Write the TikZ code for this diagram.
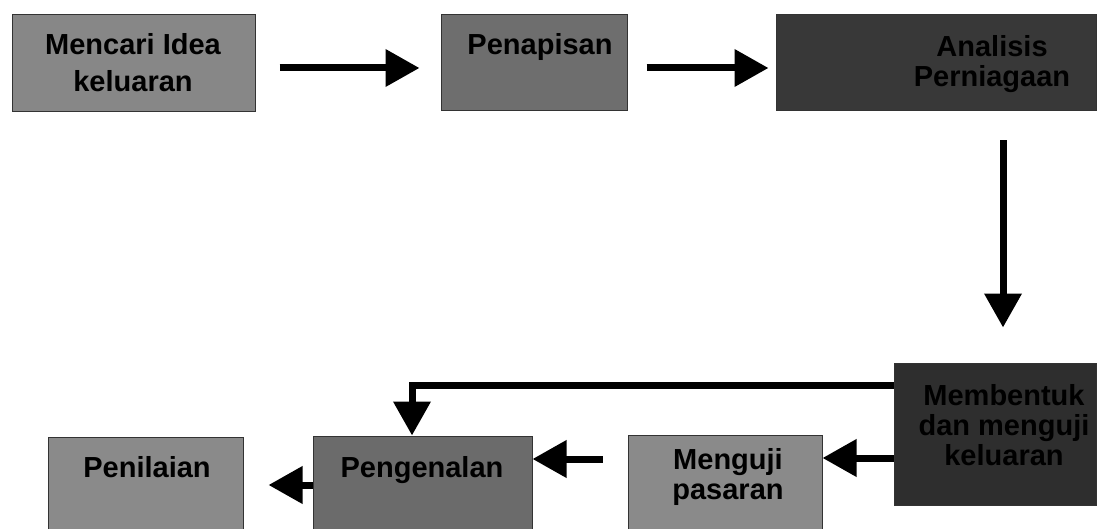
\documentclass[tikz,border=0pt]{standalone}
\usepackage{fontspec}
\setmainfont{Liberation Sans}
\usetikzlibrary{arrows.meta}
\begin{document}
\begin{tikzpicture}[x=1pt,y=-1pt,
  box/.style={draw=black!80, line width=1pt, inner sep=0pt},
  lbl/.style={font=\bfseries\fontsize{29}{37}\selectfont, align=center, text=black, inner sep=0pt},
  arr/.style={line width=7pt, -{Triangle[length=34pt,width=36pt]}},
]
\clip (0,0) rectangle (1099,529);
\fill[white] (0,0) rectangle (1099,529);
% boxes
\node[box, fill=black!47, minimum width=243pt, minimum height=97pt] (b1) at (133.5,63.5) {};
\node[box, fill=black!57, minimum width=186pt, minimum height=96pt] (b2) at (534,63) {};
\node[box, fill=black!78, minimum width=320pt, minimum height=96pt] (b3) at (936,63) {};
\node[box, fill=black!82, minimum width=202pt, minimum height=142pt] (b4) at (995,434) {};
\node[box, fill=black!46, minimum width=194pt, minimum height=100pt] (b5) at (725,485) {};
\node[box, fill=black!58, minimum width=219pt, minimum height=100pt] (b6) at (422.5,486) {};
\node[box, fill=black!46, minimum width=195pt, minimum height=100pt] (b7) at (145.5,487) {};
% labels
\node[lbl] (t1) at (133,63) {Mencari Idea\\keluaran};
\node[lbl, anchor=base] (t2) at (540,55) {Penapisan};
\node[lbl, font=\bfseries\fontsize{29}{30}\selectfont] (t3) at (992,64) {Analisis\\Perniagaan};
\node[lbl, font=\bfseries\fontsize{29}{30}\selectfont] (t4) at (1004,425) {Membentuk\\dan menguji\\keluaran};
\node[lbl, font=\bfseries\fontsize{29}{30}\selectfont] (t5) at (728,477) {Menguji\\pasaran};
\node[lbl, anchor=base] (t6) at (422,477) {Pengenalan};
\node[lbl, anchor=base] (t7) at (147,477) {Penilaian};
% helper coordinates
\coordinate (ya) at (0,68);
\coordinate (xv) at (1003,0);
\coordinate (yl) at (0,385);
\coordinate (xl) at (412,0);
\coordinate (yb) at (0,458);
\coordinate (yc) at (0,459);
\coordinate (yd) at (0,485);
% connectors
\draw[arr, shorten <=24pt, shorten >=21pt] (b1.east |- ya) -- (b2.west |- ya);
\draw[arr, shorten <=19pt, shorten >=7pt] (b2.east |- ya) -- (b3.west |- ya);
\draw[arr, shorten <=29pt, shorten >=35pt] (b3.south -| xv) -- (b4.north -| xv);
\draw[arr] (b4.west |- yl) -| (b6.north -| xl);
\draw[arr] (b4.west |- yb) -- (b5.east |- yb);
\draw[arr, shorten <=25pt] (b5.west |- yc) -- (b6.east |- yc);
\draw[arr, shorten >=25pt] (b6.west |- yd) -- (b7.east |- yd);
\end{tikzpicture}
\end{document}
